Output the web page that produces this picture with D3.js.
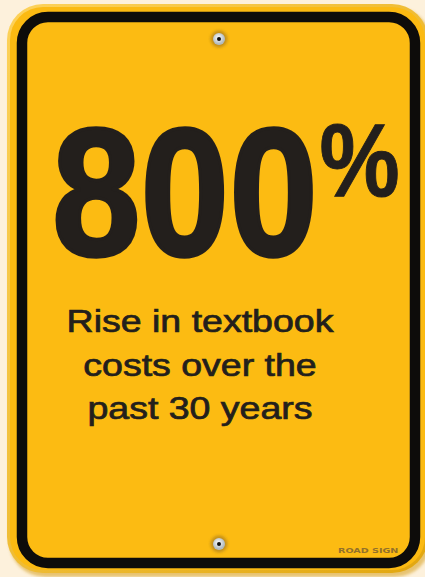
<!DOCTYPE html>
<meta charset="utf-8">
<style type="text/css">
  body { margin: 0; background: #fdf1dc; }
  svg { display: block; }
</style>
<body>
</body>
<script src="https://d3js.org/d3.v7.min.js"></script>
<script>
  // headline figure and caption of the sign
  var statValue = "800";
  var statUnit = "%";
  var captionLines = ["Rise in textbook", "costs over the", "past 30 years"];
  var footerLabel = "ROAD SIGN";

  var width = 425, height = 577;

  var svg = d3.select("body").append("svg")
    .attr("width", width)
    .attr("height", height);

  var defs = svg.append("defs");
  defs.append("filter").attr("id", "soft")
    .append("feGaussianBlur").attr("stdDeviation", 1.5);

  var rim = defs.append("linearGradient").attr("id", "rim")
    .attr("x1", "0").attr("y1", "0").attr("x2", "1").attr("y2", "1");
  rim.append("stop").attr("offset", "0%").attr("stop-color", "#fdd25a");
  rim.append("stop").attr("offset", "100%").attr("stop-color", "#e2a70f");

  var boltGrad = defs.append("radialGradient").attr("id", "bolt")
    .attr("cx", "45%").attr("cy", "40%");
  boltGrad.append("stop").attr("offset", "0%").attr("stop-color", "#ffffff");
  boltGrad.append("stop").attr("offset", "100%").attr("stop-color", "#b3bcc0");

  // shadow + outer plate
  svg.append("rect")
    .attr("x", 9).attr("y", 7).attr("width", 422).attr("height", 570)
    .attr("rx", 36)
    .attr("fill", "#d9a52a").attr("opacity", 0.6)
    .attr("filter", "url(#soft)");

  svg.append("rect")
    .attr("x", 7).attr("y", 4).attr("width", 421).attr("height", 569)
    .attr("rx", 36)
    .attr("fill", "url(#rim)");

  svg.append("rect")
    .attr("x", 10).attr("y", 7).attr("width", 415).attr("height", 563)
    .attr("rx", 33)
    .attr("fill", "#fbba12");

  // black border
  svg.append("rect")
    .attr("x", 22).attr("y", 17).attr("width", 393).attr("height", 546)
    .attr("rx", 26)
    .attr("fill", "#fcbb12")
    .attr("stroke", "#0d0c0a")
    .attr("stroke-width", 10.5);

  // bolts
  var bolts = [{x: 219, y: 39}, {x: 219, y: 544}];
  var b = svg.selectAll(".bolt").data(bolts).enter().append("g")
    .attr("class", "bolt")
    .attr("transform", function(d) { return "translate(" + d.x + "," + d.y + ")"; });
  b.append("circle").attr("r", 8.5).attr("fill", "#b8871a").attr("opacity", 0.85)
    .attr("filter", "url(#soft)");
  b.append("circle").attr("r", 6).attr("fill", "url(#bolt)");
  b.append("circle").attr("r", 2).attr("fill", "#111");

  var ink = "#231f1c";

  // big number with raised percent sign, one text element squeezed horizontally
  var big = svg.append("text")
    .attr("transform", "translate(52,255) scale(0.875,1)")
    .attr("font-family", "'Liberation Sans', Arial, sans-serif")
    .attr("font-weight", "bold")
    .attr("fill", ink)
    .attr("stroke", ink);

  big.append("tspan")
    .attr("font-size", 182)
    .attr("stroke-width", 3.5)
    .text(statValue);

  big.append("tspan")
    .attr("dx", 2)
    .attr("dy", -59)
    .attr("font-size", 103)
    .attr("stroke-width", 1)
    .text(statUnit);

  // caption
  var lineY = d3.scalePoint()
    .domain(d3.range(captionLines.length))
    .range([332, 419]);

  svg.selectAll(".caption").data(captionLines).enter().append("text")
    .attr("class", "caption")
    .attr("transform", function(d, i) { return "translate(200," + lineY(i) + ") scale(1.23,1)"; })
    .attr("text-anchor", "middle")
    .attr("font-family", "'Liberation Sans', Arial, sans-serif")
    .attr("font-size", 30.5)
    .attr("fill", ink)
    .attr("stroke", ink).attr("stroke-width", 0.7)
    .text(function(d) { return d; });

  svg.append("text")
    .attr("transform", "translate(338,553) scale(1.28,1)")
    .attr("font-family", "'DejaVu Sans', sans-serif")
    .attr("font-weight", "bold")
    .attr("font-size", 7.5)
    .attr("fill", "#93712a")
    .text(footerLabel);
</script>
